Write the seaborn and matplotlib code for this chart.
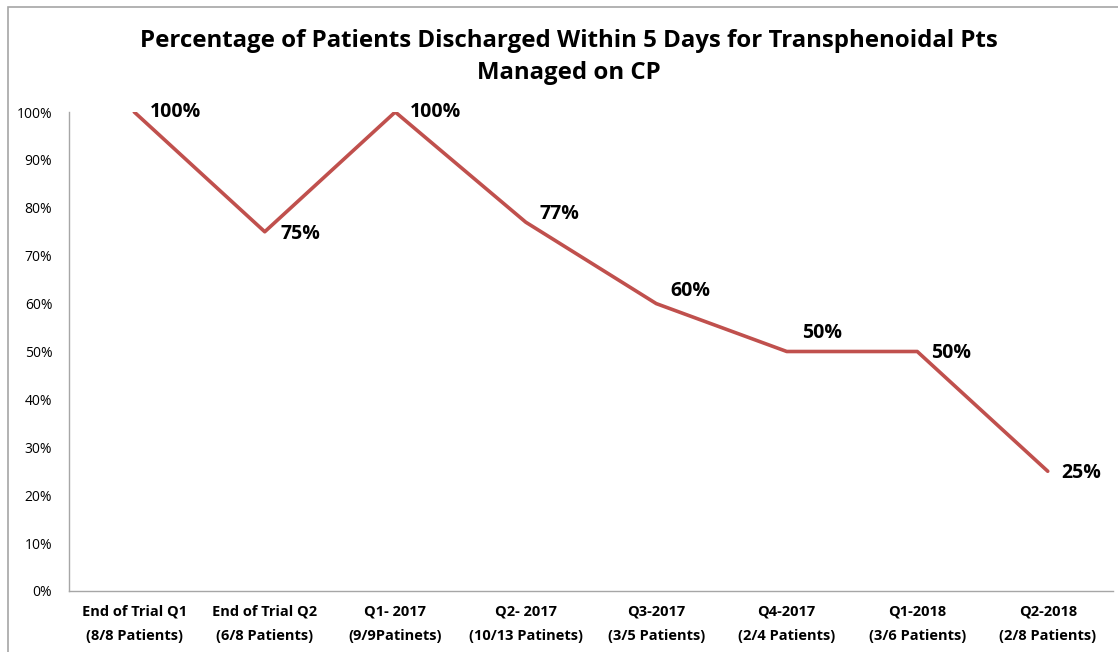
import numpy as np
import matplotlib
matplotlib.use("Agg")
import matplotlib.pyplot as plt
import seaborn as sns
import pandas as pd
from matplotlib.patches import Rectangle

# ---------------------------------------------------------------------------
# Данные
# ---------------------------------------------------------------------------
categories = [
    "End of Trial Q1\n(8/8 Patients)",
    "End of Trial Q2\n(6/8 Patients)",
    "Q1- 2017\n(9/9Patinets)",
    "Q2- 2017\n(10/13 Patinets)",
    "Q3-2017\n(3/5 Patients)",
    "Q4-2017\n(2/4 Patients)",
    "Q1-2018\n(3/6 Patients)",
    "Q2-2018\n(2/8 Patients)",
]
pct = [100, 75, 100, 77, 60, 50, 50, 25]
# смещения подписей (пиксели)
label_dx = [16, 16, 15, 14, 14, 15, 14, 14]
label_dy = [0, -2, 0, 8, 13, 19, -2, -2]

title = ("Percentage of Patients Discharged Within 5 Days for Transphenoidal Pts\n"
         "Managed on CP")

sns.set_style("white")
plt.rcParams["font.family"] = ["Open Sans", "DejaVu Sans"]
plt.rcParams["text.color"] = "black"

df = pd.DataFrame({"cat": categories, "pct": np.array(pct) / 100})
df["pos"] = np.arange(len(categories))

fig = plt.figure(figsize=(11.18, 6.52), dpi=100)
ax = fig.add_axes([69 / 1118, 1 - 591 / 652, (1113 - 69) / 1118, (591 - 112) / 652])

sns.lineplot(data=df, x="pos", y="pct", ax=ax, color="#C0504D", linewidth=2.6,
             sort=False, legend=False)

for i, (p, dx, dy) in enumerate(zip(pct, label_dx, label_dy)):
    ax.annotate(f"{p}%", (i, p / 100), textcoords="offset pixels", xytext=(dx, dy),
                ha="left", va="center", fontsize=14, fontweight="bold", color="black")

ax.set_xlim(-0.5, len(categories) - 0.5)
ax.set_ylim(0, 1)
ax.set_yticks(np.arange(0, 1.01, 0.1))
ax.set_yticklabels([f"{int(round(v * 100))}%" for v in np.arange(0, 1.01, 0.1)], fontsize=10)
ax.set_xticks(range(len(categories)))
ax.set_xticklabels(categories, fontsize=10.5, fontweight="bold", linespacing=1.9)
ax.set_xticks(np.arange(-0.5, len(categories), 1), minor=True)
ax.tick_params(axis="x", which="major", length=0, pad=10, labelcolor="black")
ax.tick_params(axis="x", which="minor", length=5, color="#A6A6A6", width=1, direction="out")
ax.tick_params(axis="y", length=5, color="#A6A6A6", width=1, direction="out", pad=7,
               labelcolor="black")
ax.set_xlabel("")
ax.set_ylabel("")

for s in ["top", "right"]:
    ax.spines[s].set_visible(False)
for s in ["left", "bottom"]:
    ax.spines[s].set_color("#A6A6A6")
    ax.spines[s].set_linewidth(1)

fig.text(569 / 1118, 1 - 57 / 652, title, ha="center", va="center", fontsize=17.3,
         fontweight="bold", linespacing=1.42, color="black")

# рамка вокруг диаграммы
fig.patches.append(Rectangle((8 / 1118, -0.01), 1.0, 1 - 7 / 652 + 0.01,
                             transform=fig.transFigure, fill=False,
                             edgecolor="#A6A6A6", linewidth=1.2))

fig.savefig("out.png", dpi=100)
